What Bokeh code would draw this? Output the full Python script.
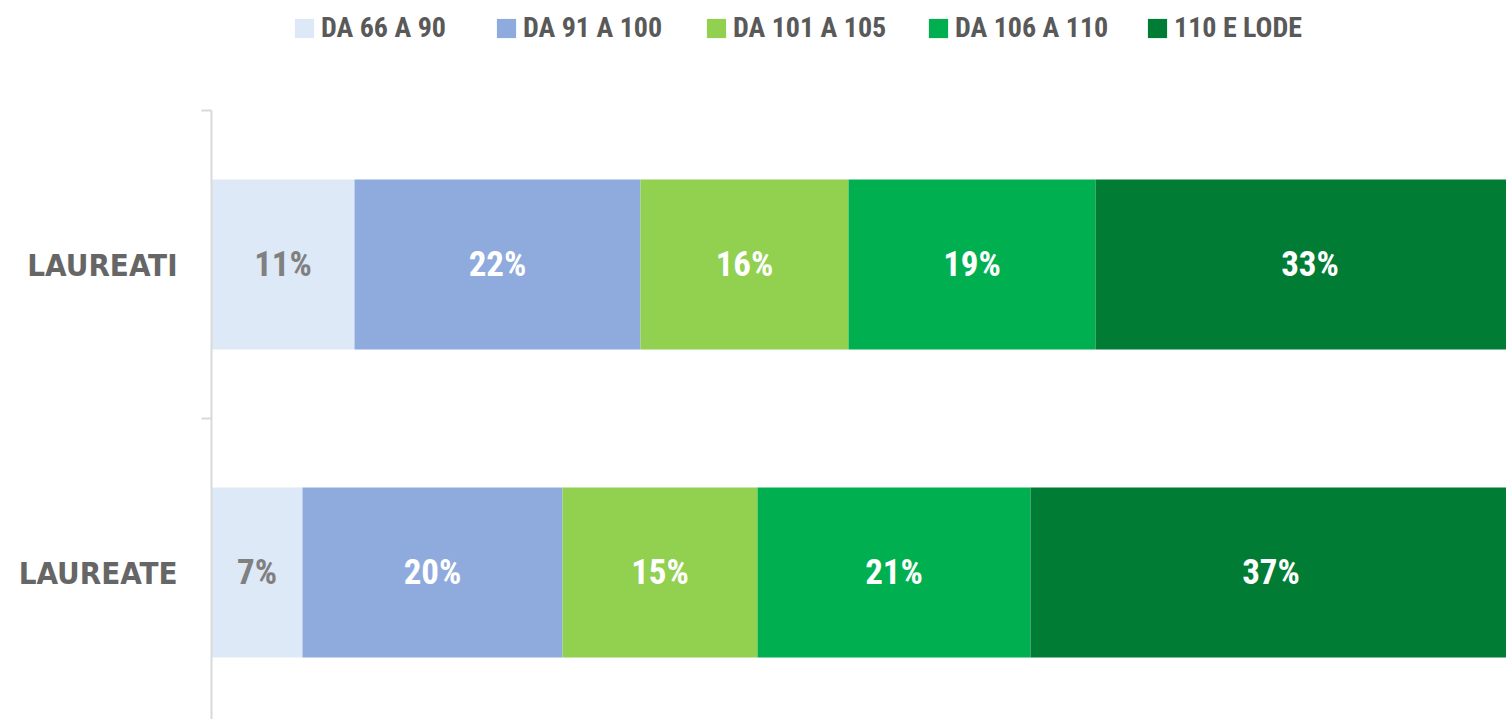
from bokeh.plotting import figure
from bokeh.models import Range1d, FixedTicker, ColumnDataSource, Legend, LegendItem
from bokeh.embed import file_html
from bokeh.resources import INLINE
from bokeh.core.properties import value

# ---- data ----
categories = ["LAUREATI", "LAUREATE"]
series_labels = ["DA 66 A 90", "DA 91 A 100", "DA 101 A 105", "DA 106 A 110", "110 E LODE"]
v_66_90 = [11, 7]
v_91_100 = [22, 20]
v_101_105 = [16, 15]
v_106_110 = [19, 21]
v_110_lode = [33, 37]
colors = ["#dde9f6", "#8faadc", "#92d050", "#00b050", "#007c34"]

series_values = [v_66_90, v_91_100, v_101_105, v_106_110, v_110_lode]
keys = ["s0", "s1", "s2", "s3", "s4"]

NUM_FONT = "Roboto Condensed, Roboto"

# ---- layout (screen pixels) ----
W, H = 1506, 719
axis_top_px = 110          # where the category axis starts
left_border = 211
band_px = 308              # height of one category band
frame_w = W - left_border
px_per_pct = 13.0
legend_x = [81, 283, 493, 715, 934]   # legend item offsets from the frame's left edge
legend_top_px = 20
legend_box = 24

y_pos = [i + 0.5 for i in range(len(categories))]

data = {"y": y_pos}
for k, vals in zip(keys, series_values):
    data[k] = vals
source = ColumnDataSource(data)

p = figure(width=W, height=H, output_backend="svg", toolbar_location=None,
           x_range=Range1d(0, frame_w / px_per_pct),
           y_range=Range1d((H - axis_top_px) / band_px, -axis_top_px / band_px),
           min_border_top=0, min_border_left=left_border,
           min_border_right=0, min_border_bottom=0)
p.outline_line_color = None
p.grid.visible = False
p.xaxis.visible = False
p.background_fill_color = "white"

renderers = p.hbar_stack(keys, y="y", height=0.552, color=colors, line_color=None, source=source)

# labels in the middle of each segment
lx, ly, lt, lc = [], [], [], []
for ci in range(len(categories)):
    left = 0
    for si, vals in enumerate(series_values):
        v = vals[ci]
        lx.append(left + v / 2)
        ly.append(y_pos[ci])
        lt.append(f"{v}%")
        lc.append("#808080" if si == 0 else "#ffffff")
        left += v
lab_src = ColumnDataSource(dict(x=lx, y=ly, text=lt, color=lc))
p.text(x="x", y="y", text="text", source=lab_src, text_color="color",
       text_align="center", text_baseline="middle",
       text_font=value(NUM_FONT), text_font_style="bold",
       text_font_size="35px")

# y axis (category bands, ticks at band boundaries)
yax = p.yaxis[0]
yax.bounds = (0, (H - axis_top_px) / band_px)
yax.ticker = FixedTicker(ticks=y_pos, minor_ticks=[0, 1, 2])
yax.major_label_overrides = {y: c for y, c in zip(y_pos, categories)}
yax.axis_line_color = "#d9d9d9"
yax.axis_line_width = 2
yax.major_tick_line_color = None
yax.major_tick_out = 0
yax.major_tick_in = 0
yax.minor_tick_line_color = "#d9d9d9"
yax.minor_tick_line_width = 2
yax.minor_tick_out = 10
yax.minor_tick_in = 0
yax.major_label_standoff = 24
yax.major_label_text_font = "DejaVu Sans Condensed"
yax.major_label_text_font_style = "bold"
yax.major_label_text_font_size = "31px"
yax.major_label_text_color = "#666666"

# legend: one entry per series, placed along the top
for lbl, r, lx0 in zip(series_labels, renderers, legend_x):
    lg = Legend(items=[LegendItem(label=lbl, renderers=[r])],
                location=(lx0, H - legend_top_px - legend_box),
                label_text_font=NUM_FONT, label_text_font_style="bold",
                label_text_font_size="28px", label_text_color="#595959",
                glyph_width=legend_box, glyph_height=legend_box, label_height=legend_box,
                label_standoff=5, padding=0, margin=0,
                border_line_color=None, background_fill_alpha=0)
    p.add_layout(lg, "center")

open("out.html", "w").write(file_html(p, INLINE))
